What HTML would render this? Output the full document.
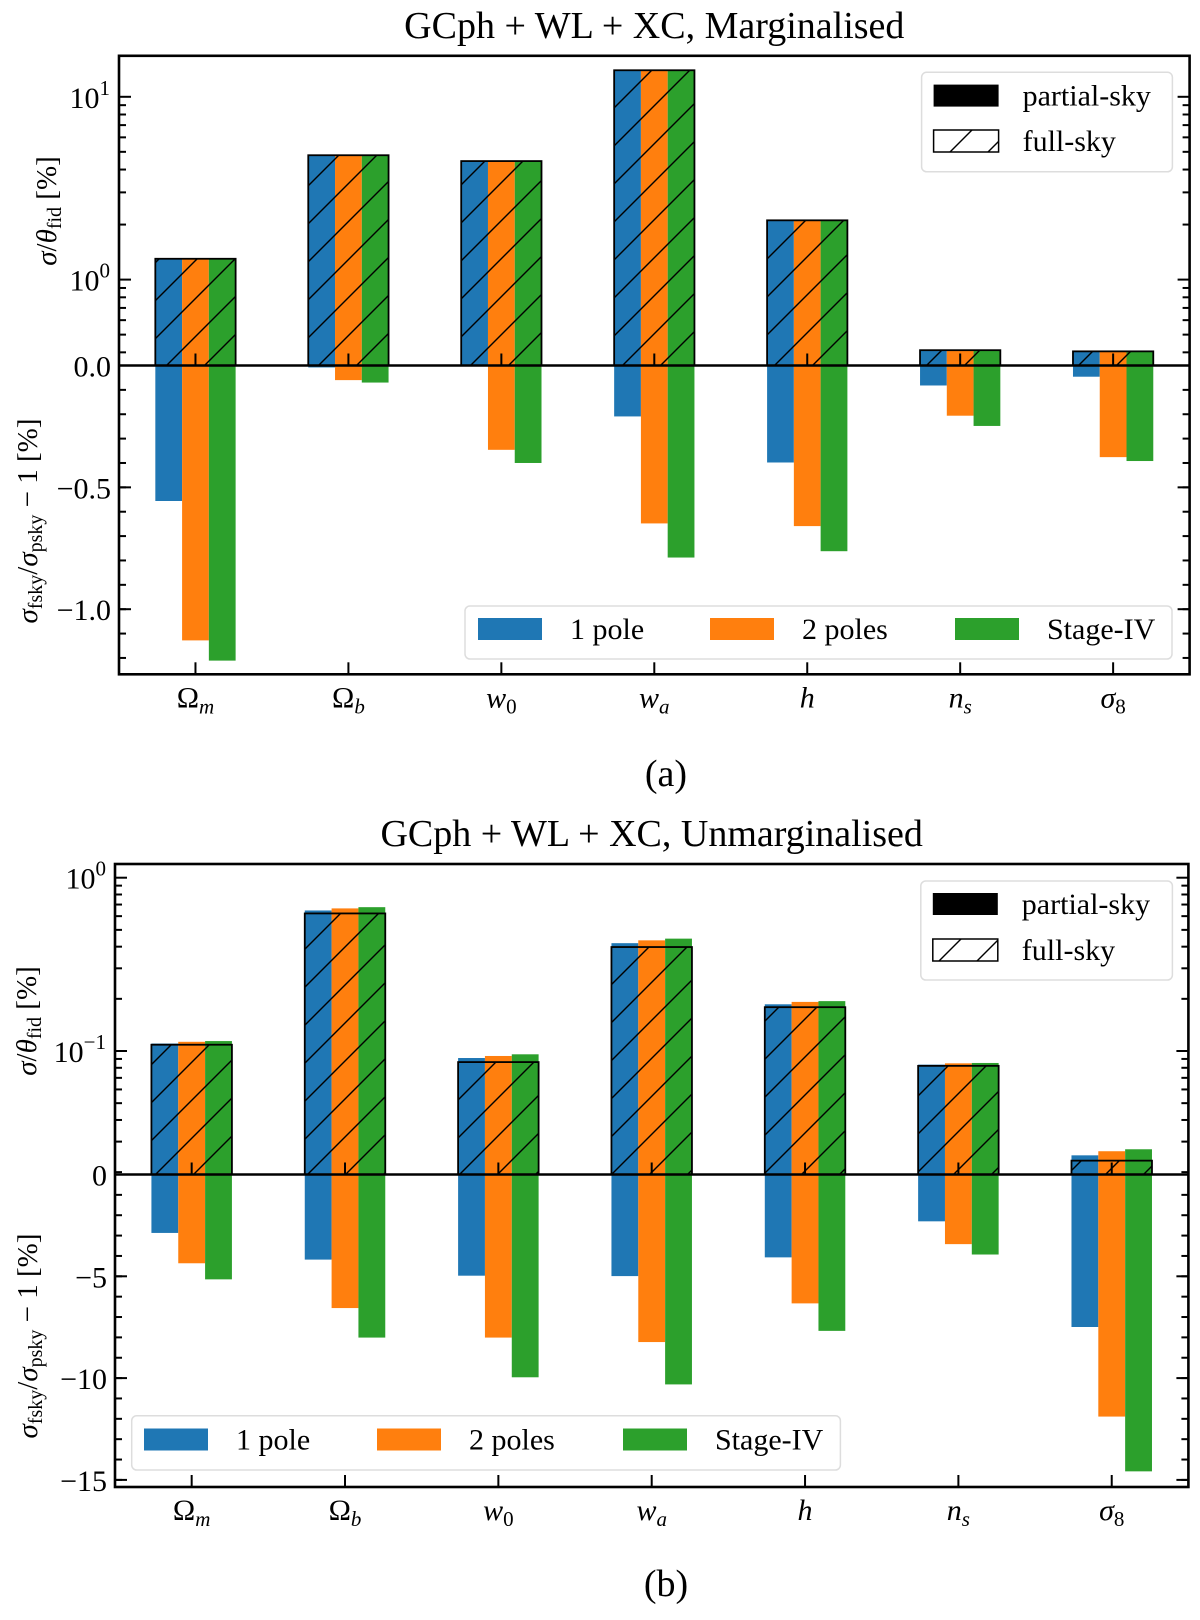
<!DOCTYPE html>
<html><head><meta charset="utf-8"><style>
html,body{margin:0;padding:0;background:#fff}
svg{display:block}
text{font-family:"Liberation Serif",serif;fill:#000}
</style></head><body>
<svg id="fig" width="1200" height="1620" viewBox="0 0 1200 1620" xmlns="http://www.w3.org/2000/svg">
<defs>
<pattern id="hatch" patternUnits="userSpaceOnUse" width="38" height="38">
<line x1="-2" y1="40" x2="40" y2="-2" stroke="#000" stroke-width="1.4"/>
<line x1="-40" y1="40" x2="2" y2="-2" stroke="#000" stroke-width="1.4"/>
<line x1="36" y1="40" x2="78" y2="-2" stroke="#000" stroke-width="1.4"/>
</pattern>
</defs>
<g id="root"></g>
</svg>
<script>
// ---- data ----
const categories = ["Ωm","Ωb","w0","wa","h","ns","σ8"];
const seriesNames = ["1 pole","2 poles","Stage-IV"];
// panel (a) marginalised
const aFull = [1.30, 4.79, 4.45, 13.97, 2.11, 0.411, 0.405];
const aPartial1 = [1.30, 4.79, 4.45, 13.97, 2.11, 0.411, 0.405];
const aPartial2 = [1.30, 4.79, 4.45, 13.97, 2.11, 0.411, 0.405];
const aPartial3 = [1.30, 4.79, 4.45, 13.97, 2.11, 0.411, 0.405];
const aDiff1 = [-0.556, -0.008, 0.0, -0.209, -0.398, -0.082, -0.046];
const aDiff2 = [-1.128, -0.060, -0.346, -0.648, -0.659, -0.206, -0.376];
const aDiff3 = [-1.211, -0.070, -0.400, -0.788, -0.762, -0.248, -0.392];
// panel (b) unmarginalised
const bFull = [0.1087, 0.622, 0.0863, 0.398, 0.179, 0.0821, 0.0233];
const bPartial1 = [0.1104, 0.647, 0.0911, 0.419, 0.186, 0.0834, 0.0250];
const bPartial2 = [0.1130, 0.665, 0.0936, 0.435, 0.192, 0.0849, 0.0264];
const bPartial3 = [0.1141, 0.676, 0.0957, 0.445, 0.194, 0.0853, 0.0271];
const bDiff1 = [-2.87, -4.18, -4.97, -4.99, -4.07, -2.30, -7.49];
const bDiff2 = [-4.36, -6.56, -8.01, -8.23, -6.33, -3.42, -11.89];
const bDiff3 = [-5.15, -8.01, -9.96, -10.31, -7.68, -3.93, -14.58];
const aLowerTicks = [0, -0.5, -1.0];
const aLowerTickLabels = ["0.0", "−0.5", "−1.0"];
const bLowerTicks = [0, -5, -10, -15];
const bLowerTickLabels = ["0", "−5", "−10", "−15"];

const colors = ["#1f77b4","#ff7f0e","#2ca02c"];
const NS = "http://www.w3.org/2000/svg";
const root = document.getElementById('root');
function mk(tag, attrs, parent){
  const e = document.createElementNS(NS, tag);
  for (const k in attrs) e.setAttribute(k, attrs[k]);
  (parent||root).appendChild(e);
  return e;
}
const catHTML = [
  ['Ω','m'],['Ω','b'],['w','0'],['w','a'],['h',''],['n','s'],['σ','8']
];
const catItalicMain = [false,false,true,true,true,true,true];
const catItalicSub = [true,true,false,true,false,true,false];

function drawPanel(cfg){
  const g = mk('g', {});
  
  
  const L = cfg.left, R = cfg.right, T = cfg.top, B = cfg.bottom, Z = cfg.zero;
  const xScale = i => L + (i + 0.5) * (R - L) / 7;
  const unit = (R - L) / 7;
  const bw = 0.175 * unit;
  const yUp = cfg.yUp, yLo = cfg.yLo;
  for (let s = 0; s < 3; s++) {
    const vals = cfg.partial[s];
    for (let i = 0; i < categories.length; i++) {
      const x = xScale(i) + (s - 1.5) * bw;
      const yt = Math.max(T, yUp(vals[i]));
      const r = mk('rect', {x: x, y: yt, width: bw, height: Math.max(0, Z - yt), fill: colors[s]}, g);
      
      
    }
  }
  for (let s = 0; s < 3; s++) {
    const vals = cfg.diff[s];
    for (let i = 0; i < categories.length; i++) {
      const x = xScale(i) + (s - 1.5) * bw;
      const yb = Math.min(B, yLo(vals[i]));
      const r = mk('rect', {x: x, y: Z, width: bw, height: Math.max(0, yb - Z), fill: colors[s]}, g);
      
      
    }
  }
  for (let i = 0; i < categories.length; i++) {
    const x = xScale(i) - 1.5 * bw;
    const yt = Math.max(T, yUp(cfg.full[i]));
    const r = mk('rect', {x: x, y: yt, width: 3*bw, height: Math.max(0, Z - yt), fill: 'url(#hatch)', stroke: '#000', 'stroke-width': 1.8}, g);
    
    
  }
  const zl = mk('line', {x1: L, x2: R, y1: Z, y2: Z, stroke: '#000', 'stroke-width': 2.6}, g);
  
  
  const tk = (y, len) => {
    mk('line', {x1: L, x2: L + len, y1: y, y2: y, stroke: '#000', 'stroke-width': 2}, g);
    mk('line', {x1: R, x2: R - len, y1: y, y2: y, stroke: '#000', 'stroke-width': 2}, g);
  };
  for (let e = cfg.logMin; e <= cfg.logMax; e++) {
    for (let m = 1; m <= 9; m++) {
      const v = m * Math.pow(10, e);
      const y = yUp(v);
      if (y < T + 1 || y > Z - 1) continue;
      tk(y, m === 1 ? 12 : 7);
      if (m === 1) {
        const t = mk('text', {x: L - 9, y: y + 11, 'font-size': 30, 'text-anchor': 'end'}, g);
        
        
        t.appendChild(document.createTextNode('10'));
        const sp = mk('tspan', {'font-size': 21, dy: -13}, t);
        sp.textContent = e < 0 ? '−' + (-e) : String(e);
      }
    }
  }
  for (let v = 0; v >= cfg.loMin - 1e-9; v -= cfg.loMinor) {
    const y = yLo(v);
    if (y > B - 1) break;
    tk(y, 7);
  }
  cfg.loTicks.forEach((v, k) => {
    const y = yLo(v);
    tk(y, 12);
    const t = mk('text', {x: L - 8, y: y + 11, 'font-size': 30, 'text-anchor': 'end'}, g);
    
    
    t.textContent = cfg.loLabels[k];
  });
  for (let i = 0; i < categories.length; i++) {
    const x = xScale(i);
    mk('line', {x1: x, x2: x, y1: B, y2: B - 12, stroke: '#000', 'stroke-width': 2}, g);
    mk('line', {x1: x, x2: x, y1: Z, y2: Z - 12, stroke: '#000', 'stroke-width': 2}, g);
    const t = mk('text', {x: x, y: B + 33, 'font-size': 30, 'text-anchor': 'middle'}, g);
    
    
    const a = mk('tspan', {'font-style': catItalicMain[i] ? 'italic' : 'normal'}, t);
    a.textContent = catHTML[i][0];
    if (catHTML[i][1]) {
      const b = mk('tspan', {'font-size': 21, dy: 6, 'font-style': catItalicSub[i] ? 'italic' : 'normal'}, t);
      b.textContent = catHTML[i][1];
    }
  }
  const sp = mk('rect', {x: L, y: T, width: R - L, height: B - T, fill: 'none', stroke: '#000', 'stroke-width': 2.6}, g);
  
  
  const tt = mk('text', {x: (L + R) / 2, y: cfg.titleY, 'font-size': 38, 'text-anchor': 'middle'}, g);
  
  
  tt.textContent = cfg.title;
  const yl1 = mk('text', {transform: `translate(${cfg.upLabelX},${cfg.upLabelY}) rotate(-90)`, 'font-size': 29, 'text-anchor': 'middle'}, g);
  
  
  yl1.innerHTML = '<tspan font-style="italic">σ</tspan>/<tspan font-style="italic">θ</tspan><tspan font-size="20" dy="5">fid</tspan><tspan dy="-5"> [%]</tspan>';
  const yl2 = mk('text', {transform: `translate(${cfg.loLabelX},${cfg.loLabelY}) rotate(-90)`, 'font-size': 29, 'text-anchor': 'middle'}, g);
  
  
  yl2.innerHTML = '<tspan font-style="italic">σ</tspan><tspan font-size="20" dy="5">fsky</tspan><tspan dy="-5">/</tspan><tspan font-style="italic">σ</tspan><tspan font-size="20" dy="5">psky</tspan><tspan dy="-5"> − 1 [%]</tspan>';
  const lg = mk('g', {}, g);
  
  
  const s = cfg.skyLeg;
  mk('rect', {x: s.x, y: s.y, width: s.w, height: s.h, rx: 5, fill: '#fff', 'fill-opacity': 0.8, stroke: '#ddd', 'stroke-width': 1.5}, lg);
  mk('rect', {x: s.x + 12, y: s.r1 - 11, width: 65, height: 22, fill: '#000'}, lg);
  mk('rect', {x: s.x + 12, y: s.r2 - 11, width: 65, height: 22, fill: 'url(#hatch)', stroke: '#000', 'stroke-width': 1.5}, lg);
  const t1 = mk('text', {x: s.x + 101, y: s.r1 + 10, 'font-size': 30}, lg); t1.textContent = 'partial-sky';
  const t2 = mk('text', {x: s.x + 101, y: s.r2 + 10, 'font-size': 30}, lg); t2.textContent = 'full-sky';
  const sg = mk('g', {}, g);
  
  
  const q = cfg.serLeg;
  mk('rect', {x: q.x, y: q.y, width: q.w, height: q.h, rx: 5, fill: '#fff', 'fill-opacity': 0.8, stroke: '#ddd', 'stroke-width': 1.5}, sg);
  for (let k = 0; k < 3; k++) {
    mk('rect', {x: q.px[k], y: q.cy - 11, width: 64, height: 22, fill: colors[k]}, sg);
    const t = mk('text', {x: q.px[k] + 92, y: q.cy + 10, 'font-size': 30}, sg);
    t.textContent = seriesNames[k];
  }
  const cap = mk('text', {x: 666, y: cfg.capY, 'font-size': 38, 'text-anchor': 'middle'}, g);
  
  
  cap.textContent = cfg.caption;
}

drawPanel({
  name: 'panel-a', title: 'GCph + WL + XC, Marginalised', caption: '(a)', titleY: 38, capY: 786,
  left: 119, right: 1189.6, top: 55.8, bottom: 674.3, zero: 365.5,
  yUp: v => 279.6 - 182.8 * Math.log10(v),
  yLo: v => 365.5 - 243.7 * v,
  logMin: -1, logMax: 1, loMin: -1.25, loMinor: 0.1,
  loTicks: aLowerTicks, loLabels: aLowerTickLabels,
  full: aFull, partial: [aPartial1, aPartial2, aPartial3], diff: [aDiff1, aDiff2, aDiff3],
  upLabelX: 56, upLabelY: 211, loLabelX: 37, loLabelY: 521,
  skyLeg: {x: 921.6, y: 72.3, w: 250.8, h: 99.5, r1: 95.6, r2: 141},
  serLeg: {x: 465, y: 606, w: 707, h: 53, cy: 629, px: [478, 710, 955]}
});
drawPanel({
  name: 'panel-b', title: 'GCph + WL + XC, Unmarginalised', caption: '(b)', titleY: 846, capY: 1596,
  left: 115, right: 1188.4, top: 864, bottom: 1487, zero: 1174.5,
  yUp: v => 1051.0 - 173.3 * (Math.log10(v) + 1),
  yLo: v => 1174.5 - 20.36 * v,
  logMin: -2, logMax: 0, loMin: -15.4, loMinor: 1,
  loTicks: bLowerTicks, loLabels: bLowerTickLabels,
  full: bFull, partial: [bPartial1, bPartial2, bPartial3], diff: [bDiff1, bDiff2, bDiff3],
  upLabelX: 36, upLabelY: 1021, loLabelX: 37, loLabelY: 1336,
  skyLeg: {x: 920.8, y: 881, w: 251.6, h: 99, r1: 904, r2: 950},
  serLeg: {x: 131.7, y: 1415.7, w: 708.7, h: 54.3, cy: 1439.5, px: [144, 377, 623]}
});
</script>
</body></html>
